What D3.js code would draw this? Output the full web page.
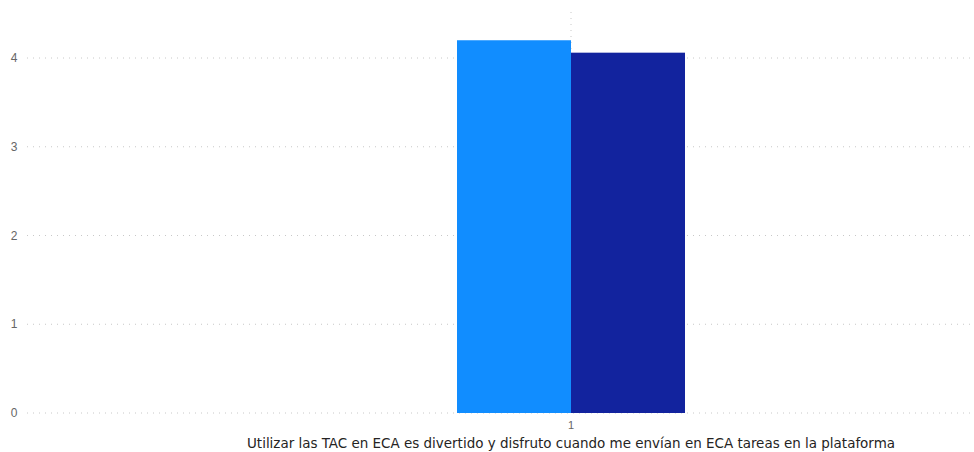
<!DOCTYPE html>
<html><head><meta charset="utf-8">
<script src="https://cdn.jsdelivr.net/npm/d3@7"></script>
<style>body{margin:0;background:#fff}svg{display:block}</style>
</head><body>
<svg id="c" width="974" height="452"></svg>
<script>
const categories = ["1"];
const seriesNames = ["Serie A", "Serie B"];
const seriesValues = [4.20, 4.06];
const yTicks = [0, 1, 2, 3, 4];
const axisTitle = "Utilizar las TAC en ECA es divertido y disfruto cuando me envían en ECA tareas en la plataforma";
const colors = ["#118DFF", "#12239E"];

const svg = d3.select("#c");
const W = 974, H = 452;
const y = d3.scaleLinear().domain([0, 4]).range([413, 58]);
const x = d3.scaleBand().domain(categories).range([457, 685]).padding(0);
const xs = d3.scaleBand().domain(seriesNames).range([0, x.bandwidth()]).padding(0);

// horizontal gridlines
svg.append("g").selectAll("line").data(yTicks).join("line")
  .attr("x1", 27).attr("x2", W).attr("y1", d => y(d)).attr("y2", d => y(d))
  .attr("stroke", "#c8c8c8").attr("stroke-width", 1).attr("stroke-dasharray", "1,5");

// vertical gridline at category
svg.append("g").selectAll("line").data(categories).join("line")
  .attr("x1", d => x(d) + x.bandwidth()/2).attr("x2", d => x(d) + x.bandwidth()/2)
  .attr("y1", 12).attr("y2", 413)
  .attr("stroke", "#c8c8c8").attr("stroke-width", 1).attr("stroke-dasharray", "1,5");

// y labels
svg.append("g").selectAll("text").data(yTicks).join("text")
  .attr("x", 14).attr("y", d => y(d)).attr("dy", "0.35em").attr("text-anchor", "middle")
  .attr("font-family", "Liberation Sans, Arial, sans-serif").attr("font-size", 12)
  .attr("fill", "#666666").text(d => d);

// bars
categories.forEach(c => {
  svg.append("g").selectAll("rect").data(seriesValues).join("rect")
    .attr("x", (d, i) => x(c) + xs(seriesNames[i]))
    .attr("width", xs.bandwidth())
    .attr("y", d => y(d)).attr("height", d => y(0) - y(d))
    .attr("fill", (d, i) => colors[i]);
});

// x tick labels
svg.append("g").selectAll("text").data(categories).join("text")
  .attr("x", d => x(d) + x.bandwidth()/2).attr("y", 425).attr("dy", "0.35em").attr("text-anchor", "middle")
  .attr("font-family", "Liberation Sans, Arial, sans-serif").attr("font-size", 11)
  .attr("fill", "#666666").text(d => d);

// axis title
svg.append("text").attr("x", x(categories[0]) + x.bandwidth()/2).attr("y", 443).attr("dy", "0.35em")
  .attr("text-anchor", "middle")
  .attr("font-family", "Liberation Sans Narrow, DejaVu Sans Condensed, sans-serif").attr("font-size", 14)
  .attr("fill", "#252423").attr("textLength", 648).attr("lengthAdjust", "spacingAndGlyphs")
  .text(axisTitle);
</script>
</body></html>
